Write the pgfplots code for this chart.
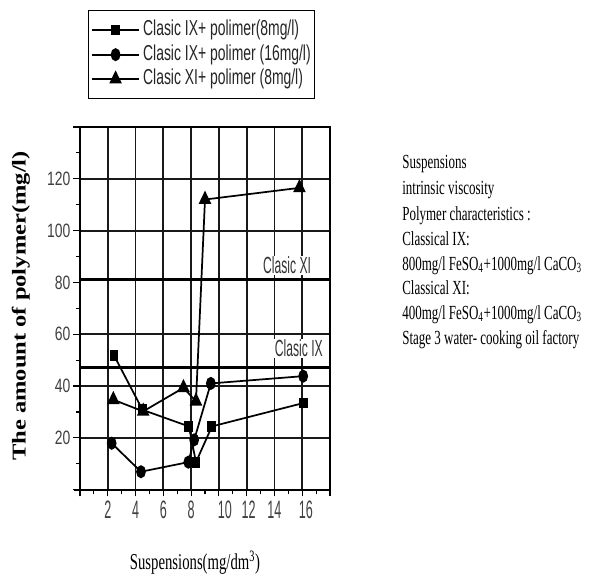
\documentclass[border=0pt]{standalone}
\usepackage{fontspec}
\usepackage{pgfplots}
\pgfplotsset{compat=1.18}
\setmainfont{Liberation Serif}
\newfontfamily\xtickfont[FakeStretch=0.5]{Liberation Sans}
\newfontfamily\ytickfont[FakeStretch=0.72]{Liberation Sans}
\newfontfamily\legfont[FakeStretch=0.645]{Liberation Sans}
\newfontfamily\reffont[FakeStretch=0.52]{Liberation Sans}
\newfontfamily\notefont[FakeStretch=0.65]{Liberation Serif}
\newfontfamily\ylabfont[FakeStretch=1.25]{Liberation Serif}

\pgfplotstableread{
x y
2.45 51.8
4.5 30.8
7.84 24.4
8.35 10.6
9.5 24.4
16.07 33.4
}\sqdata
\pgfplotstableread{
x y
2.28 17.9
4.39 6.9
7.8 10.6
8.22 19.2
9.42 41.0
16.07 43.8
}\circdata
\pgfplotstableread{
x y
2.4 34.7
4.55 30.2
7.45 39.3
8.35 34.1
9.0 112.0
15.8 116.5
}\tridata

\begin{document}
\begin{tikzpicture}
\path (-60pt,-66.3pt) rectangle (386.25pt,367.2pt);
\begin{axis}[
  scale only axis, width=187.5pt, height=271.95pt,
  xmin=0, xmax=18, ymin=0, ymax=140, clip=false,
  xtick={0,2,...,18}, xticklabels={,2,4,6,8,\hspace*{9pt}10,\hspace*{3pt}12,14,\hspace*{5.5pt}16,},
  ytick={0,20,...,140}, yticklabels={,20,40,60,80,100,120,},
  minor x tick num=1, minor y tick num=1,
  tick align=outside, tick pos=left,
  major tick length=5pt, minor tick length=3pt,
  tick style={black, line width=0.9pt},
  axis line style={black, line width=1.3pt},
  xticklabel style={font=\xtickfont\fontsize{18.9pt}{20pt}\selectfont, text=black!75},
  yticklabel style={font=\ytickfont\fontsize{14.5pt}{16pt}\selectfont, text=black!75, inner xsep=2pt},
  legend style={at={(0.032,1.3227)}, anchor=north west, draw=black, line width=1.1pt,
    inner xsep=2pt, inner ysep=6.3pt, row sep=1.9pt, column sep=1.5pt,
    font=\legfont\fontsize{16.2pt}{17pt}\selectfont,
    nodes={inner sep=1pt, text height=11.5pt, text depth=3pt, anchor=west, text=black!85}},
  legend cell align=left,
  legend image code/.code={\draw[#1, mark repeat=2, mark phase=2] plot coordinates {(0pt,0pt) (17.5pt,0pt) (35pt,0pt)};},
]
% grid lines and frame, drawn as lines through the axis
\pgfplotsinvokeforeach{2,4,...,16}{
  \addplot[forget plot, black!90, line width=1.4pt] coordinates {(#1,0) (#1,140)};
}
\pgfplotsinvokeforeach{20,40,60,100,120}{
  \addplot[forget plot, black!90, line width=1.4pt] coordinates {(0,#1) (18,#1)};
}
\addplot[forget plot, black, line width=1.5pt] coordinates {(18,0) (18,140)};
\addplot[forget plot, black, line width=1.5pt] coordinates {(0,140) (18,140)};
\addplot[forget plot, black, line width=1.6pt] coordinates {(-0.4,0) (18,0)};
\addplot[forget plot, black, line width=1.5pt] coordinates {(0,-1.5) (0,140)};
% data
\addplot[black, line width=1.3pt, mark=square*, mark size=2.7pt, mark options={solid, yscale=1.25}] table {\sqdata};
\addlegendentry{Clasic IX+ polimer(8mg/l)}
\addplot[black, line width=1.3pt, mark=*, mark size=3pt, mark options={solid, yscale=1.4}] table {\circdata};
\addlegendentry{Clasic IX+ polimer (16mg/l)}
\addplot[black, line width=1.3pt, mark=triangle*, mark size=4.3pt, mark options={solid, yscale=1.2}] table {\tridata};
\addlegendentry{Clasic XI+ polimer (8mg/l)}
\addplot[black, line width=2.4pt, forget plot] coordinates {(0,81) (18,81)};
\addplot[black, line width=2.4pt, forget plot] coordinates {(0,47) (18,47)};
\node[anchor=east, inner sep=1pt, fill=white, text=black!80, font=\reffont\fontsize{17.5pt}{18pt}\selectfont] at (axis cs:16.75,86.5) {Clasic XI};
\node[anchor=east, inner sep=1pt, fill=white, text=black!80, font=\reffont\fontsize{17.5pt}{18pt}\selectfont] at (axis cs:17.6,54.5) {Clasic IX};
\end{axis}
\node[rotate=90, inner sep=0pt, font=\ylabfont\bfseries\fontsize{14.7pt}{16pt}\selectfont] at (-44.25pt,137.7pt) {The amount of polymer(mg/l)};
\node[inner sep=0pt, font=\notefont\fontsize{17pt}{18pt}\selectfont] at (86.25pt,-55.05pt) {Suspensions(mg/dm\textsuperscript{3})};
\begin{scope}[every node/.style={anchor=mid west, inner sep=0pt, font=\notefont\fontsize{15pt}{16pt}\selectfont}]
\node at (241.5pt,243.45pt) {Suspensions};
\node at (241.5pt,223.95pt) {intrinsic viscosity};
\node at (241.5pt,204.45pt) {Polymer characteristics :};
\node at (241.5pt,185.7pt) {Classical IX:};
\node at (241.5pt,166.95pt) {800mg/l FeSO\textsubscript{4}+1000mg/l CaCO\textsubscript{3}};
\node at (241.5pt,148.95pt) {Classical XI:};
\node at (241.5pt,130.2pt) {400mg/l FeSO\textsubscript{4}+1000mg/l CaCO\textsubscript{3}};
\node at (241.5pt,111.45pt) {Stage 3 water- cooking oil factory};
\end{scope}
\end{tikzpicture}
\end{document}
